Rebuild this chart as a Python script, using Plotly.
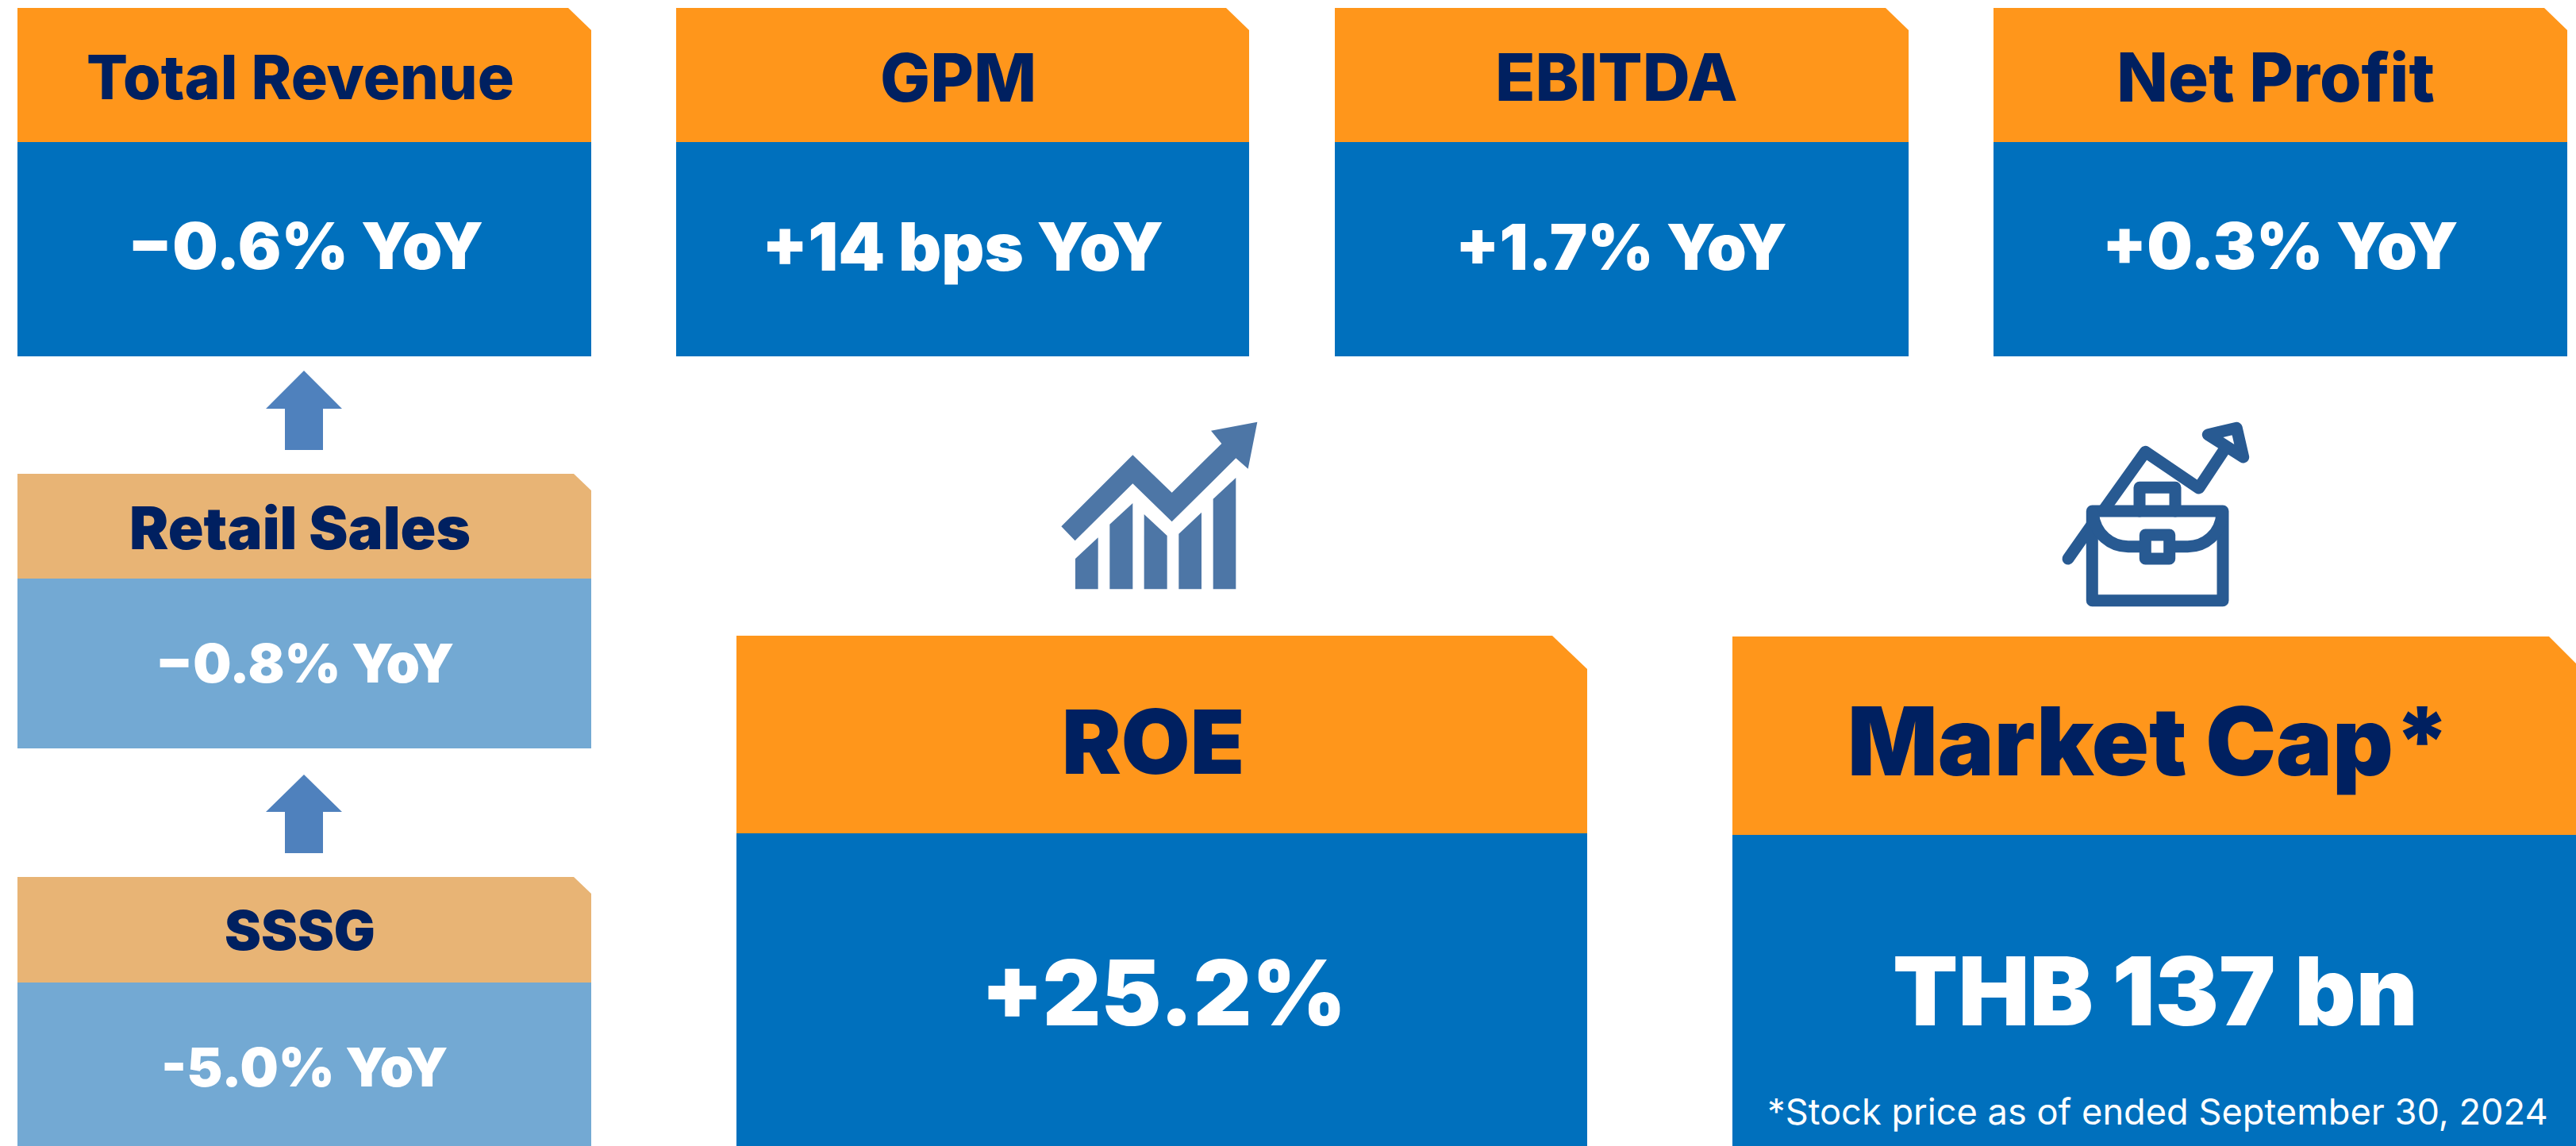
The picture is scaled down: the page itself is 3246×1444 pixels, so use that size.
import plotly.graph_objects as go

# ---------- content ----------
main_titles = ["Total Revenue", "GPM", "EBITDA", "Net Profit"]
main_values = ["−0.6% YoY", "+14 bps YoY", "+1.7% YoY", "+0.3% YoY"]
driver_titles = ["Retail Sales", "SSSG"]
driver_values = ["−0.8% YoY", "-5.0% YoY"]
big_titles = ["ROE", "Market Cap*"]
big_values = ["+25.2%", "THB 137 bn"]
footnote = "*Stock price as of ended September 30, 2024"

# ---------- style ----------
W, H = 3246, 1444
ORANGE, BLUE, TAN, LIGHT = "#FF961B", "#0070BD", "#E8B475", "#73A9D3"
NAVY, ARROW, ICON1, ICON2 = "#002060", "#4F81BD", "#4D76A6", "#285A92"
FONT = "Inter"

shapes, notes = [], []

def poly(pts, color):
    d = "M" + " L".join(f"{x},{y}" for x, y in pts) + " Z"
    shapes.append(dict(type="path", path=d, xref="x", yref="y",
                       fillcolor=color, line=dict(width=0), layer="below"))

def stroke(d, color, width, fill="rgba(0,0,0,0)"):
    shapes.append(dict(type="path", path=d, xref="x", yref="y", fillcolor=fill,
                       line=dict(color=color, width=width), layer="below"))

def label(text, x, y, size, color, weight=800):
    notes.append(dict(text=text, x=x, y=y, xref="x", yref="y", showarrow=False,
                      xanchor="center", yanchor="middle",
                      font=dict(family=FONT, size=size, color=color, weight=weight)))

def card(x0, x1, top, split, bottom, cut_x, cut_y, head, body):
    poly([(x0, top), (x1 - cut_x, top), (x1, top + cut_y), (x1, split), (x0, split)], head)
    poly([(x0, split), (x1, split), (x1, bottom), (x0, bottom)], body)

# top row
top_x = [(22, 745), (852, 1574), (1682, 2405), (2512, 3235)]
title_cx = [378, 1207, 2037, 2867]
value_cx = [385, 1213, 2043, 2873]
title_size = [77, 84, 83, 85]
value_size = [81, 84, 80, 81]
for (a, b), t, v, tc, vc, ts, vs in zip(top_x, main_titles, main_values,
                                        title_cx, value_cx, title_size, value_size):
    card(a, b, 10, 179, 449, 29, 28, ORANGE, BLUE)
    label(t, tc, 97, ts, NAVY)
    label(v, vc, 310, vs, "white", 900)

# left column
driver_y = [(597, 729, 943), (1105, 1238, 1444)]
driver_title_y = [665, 1172]
driver_value_y = [835, 1344]
driver_title_size = [74, 69]
for (t, s, b), ty, vy, tt, vv, ts in zip(driver_y, driver_title_y, driver_value_y,
                                         driver_titles, driver_values, driver_title_size):
    card(22, 745, t, s, b, 22, 21, TAN, LIGHT)
    label(tt, 378, ty, ts, NAVY, 900)
    label(vv, 384, vy, 68, "white", 900)

# up arrows
for tip, base, foot in [(467, 515, 567), (976, 1023, 1075)]:
    poly([(383, tip), (431, base), (407, base), (407, foot),
          (359, foot), (359, base), (335, base)], ARROW)

# big cards
card(928, 2000, 801, 1050, 1444, 44, 42, ORANGE, BLUE)
card(2183, 3280, 802, 1052, 1444, 68, 68, ORANGE, BLUE)
label(big_titles[0], 1453, 934, 112, NAVY, 900)
label(big_titles[1], 2708, 934, 119, NAVY, 900)
label(big_values[0], 1466, 1250, 114, "white", 900)
label(big_values[1], 2716, 1248, 120, "white", 900)
label(footnote, 2719, 1400, 45.2, "white", 400)

# icon: rising chart
def i1(p):
    return [(1250 + x / 3, 500 + y / 3) for x, y in p]
poly(i1([(262, 490), (532, 220), (680, 362), (868, 177), (828, 128), (1003, 95),
         (968, 272), (922, 232), (680, 472), (532, 328), (314, 544)]), ICON1)
poly(i1([(315, 612), (401, 532), (401, 727), (315, 727)]), ICON1)
poly(i1([(445, 482), (532, 402), (532, 727), (445, 727)]), ICON1)
poly(i1([(575, 444), (662, 525), (662, 727), (575, 727)]), ICON1)
poly(i1([(706, 518), (792, 437), (792, 727), (706, 727)]), ICON1)
poly(i1([(836, 386), (922, 306), (922, 727), (836, 727)]), ICON1)

# icon: briefcase
def i2(x, y):
    return f"{2540 + x / 3:.1f},{500 + y / 3:.1f}"
def path(*pts, close=False):
    return "M" + " L".join(i2(x, y) for x, y in pts) + (" Z" if close else "")
SW = 15
stroke(path((198, 612), (285, 488)), ICON2, SW)
stroke(path((335, 425), (490, 208), (692, 345), (785, 205)), ICON2, SW)
stroke(path((727, 143), (835, 118), (860, 228), close=True), ICON2, SW)
stroke(path((468, 432), (468, 343), (603, 343), (603, 432)), ICON2, SW)
stroke(path((289, 432), (783, 432), (783, 770), (289, 770), close=True), ICON2, SW)
stroke("M" + i2(292, 440) + " C" + i2(300, 520) + " " + i2(360, 566) + " " + i2(425, 566)
       + " L" + i2(650, 566) + " C" + i2(715, 566) + " " + i2(775, 520) + " " + i2(780, 440),
       ICON2, SW)
stroke(path((490, 522), (581, 522), (581, 612), (490, 612), close=True), ICON2, SW, "white")

fig = go.Figure()
fig.update_layout(
    width=W, height=H, margin=dict(l=0, r=0, t=0, b=0),
    paper_bgcolor="white", plot_bgcolor="white", showlegend=False,
    xaxis=dict(range=[0, W], visible=False, fixedrange=True),
    yaxis=dict(range=[H, 0], visible=False, fixedrange=True),
    shapes=shapes, annotations=notes,
)
POST = """
document.body.style.margin='0';
function roundIcons(){
  document.querySelectorAll('.shapelayer path').forEach(function(p){
    p.style.strokeLinejoin='round'; p.style.strokeLinecap='round';
  });
}
roundIcons(); setTimeout(roundIcons,50); setTimeout(roundIcons,300);
"""
fig.write_html("out.html", config=dict(displayModeBar=False), post_script=POST)
